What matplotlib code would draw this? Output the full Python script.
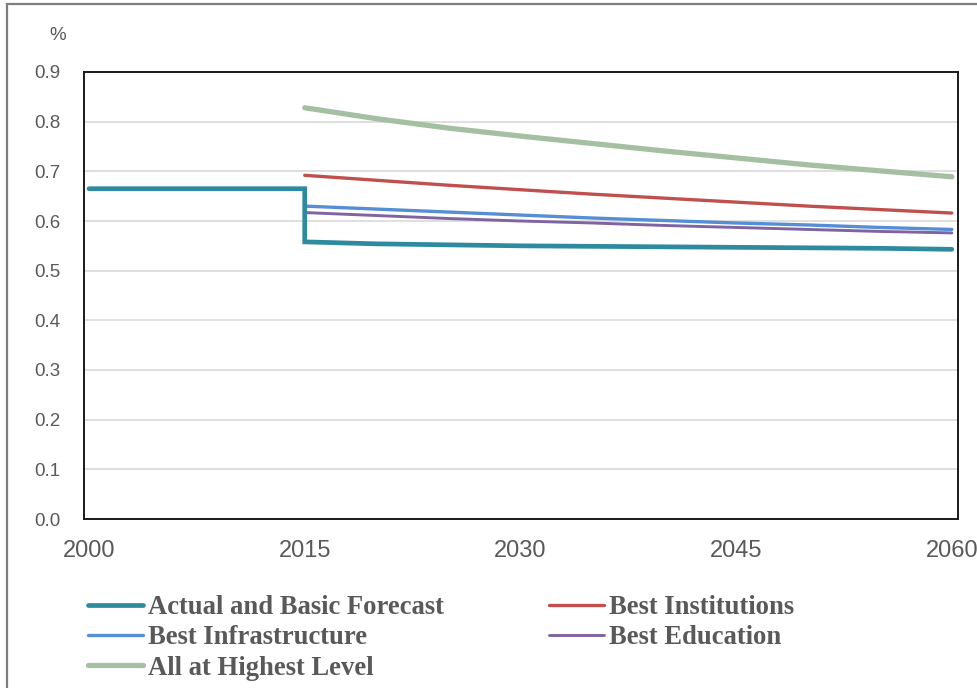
import matplotlib
matplotlib.use("Agg")
import matplotlib.pyplot as plt
from matplotlib.patches import Rectangle

# Historical share (flat until 2015), then scenario forecasts
hist_years = [2000, 2005, 2010, 2015]
hist_values = [0.665, 0.665, 0.665, 0.665]

fc_years = [2015, 2020, 2025, 2030, 2035, 2040, 2045, 2050, 2055, 2060]
basic = [0.558, 0.554, 0.552, 0.550, 0.549, 0.548, 0.547, 0.546, 0.545, 0.543]
institutions = [0.692, 0.682, 0.672, 0.663, 0.654, 0.646, 0.638, 0.630, 0.623, 0.616]
infrastructure = [0.630, 0.624, 0.618, 0.612, 0.606, 0.601, 0.596, 0.592, 0.587, 0.583]
education = [0.617, 0.611, 0.605, 0.600, 0.596, 0.591, 0.587, 0.583, 0.579, 0.576]
highest = [0.828, 0.806, 0.787, 0.771, 0.756, 0.741, 0.727, 0.713, 0.701, 0.689]

x_ticks = [2000, 2015, 2030, 2045, 2060]
y_ticks = [0.0, 0.1, 0.2, 0.3, 0.4, 0.5, 0.6, 0.7, 0.8, 0.9]

labels = ["Actual and Basic Forecast", "Best Institutions", "Best Infrastructure",
          "Best Education", "All at Highest Level"]
colors = {"teal": "#2E8A9E", "red": "#C0504D", "blue": "#558ED5",
          "purple": "#8064A2", "green": "#A5BFA3"}

W, H = 978, 688
fig = plt.figure(figsize=(W / 100, H / 100), dpi=100)

# outer frame of the chart area
fig.add_artist(Rectangle((7 / W, -0.1), 1.2, 1 - 4 / H + 0.1, transform=fig.transFigure,
                         fill=False, edgecolor="#7F7F7F", linewidth=1.6, clip_on=False))

ax = fig.add_axes([84 / W, 1 - 519 / H, 874 / W, 447 / H])

tick_color = "#595959"
lw_kw = dict(solid_capstyle="round", solid_joinstyle="miter")

h_green, = ax.plot(fc_years, highest, color=colors["green"], lw=3.8, label=labels[4], **lw_kw)
h_red, = ax.plot(fc_years, institutions, color=colors["red"], lw=2.4, label=labels[1], **lw_kw)
h_blue, = ax.plot(fc_years, infrastructure, color=colors["blue"], lw=2.4, label=labels[2], **lw_kw)
h_purple, = ax.plot(fc_years, education, color=colors["purple"], lw=2.1, label=labels[3], **lw_kw)
h_teal, = ax.plot(hist_years + fc_years, hist_values + basic, color=colors["teal"], lw=3.4,
                  label=labels[0], **lw_kw)

ax.set_xlim(1999.65, 2060.43)
ax.set_ylim(0, 0.9)
ax.set_xticks(x_ticks)
ax.set_yticks(y_ticks)
ax.set_yticklabels([f"{v:.1f}" for v in y_ticks])
ax.grid(axis="y", color="#D9D9D9", lw=1.2)
ax.set_axisbelow(True)
ax.tick_params(axis="both", length=0, colors=tick_color)
ax.tick_params(axis="y", labelsize=13.5, pad=17)
ax.tick_params(axis="x", labelsize=17, pad=15)
for lab in ax.get_xticklabels() + ax.get_yticklabels():
    lab.set_fontfamily("Liberation Sans")
for s in ax.spines.values():
    s.set_color("#1A1A1A")
    s.set_linewidth(1.4)

fig.text(58 / W, 1 - 35 / H, "%", fontsize=13.5, color=tick_color, family="Liberation Sans",
         ha="center", va="center")

leg_font = dict(family="Liberation Serif", weight="bold", size=19.2)
common = dict(frameon=False, prop=leg_font, labelcolor=tick_color, handlelength=2.06,
              handletextpad=0.19, labelspacing=0.2, borderpad=0, borderaxespad=0)
leg1 = fig.legend([h_teal, h_blue, h_green], [labels[0], labels[2], labels[4]],
                  loc="upper left", bbox_to_anchor=(88 / W, 1 - 595 / H), **common)
leg2 = fig.legend([h_red, h_purple], [labels[1], labels[3]],
                  loc="upper left", bbox_to_anchor=(549 / W, 1 - 595 / H), **common)

fig.savefig("out.png", dpi=100)
